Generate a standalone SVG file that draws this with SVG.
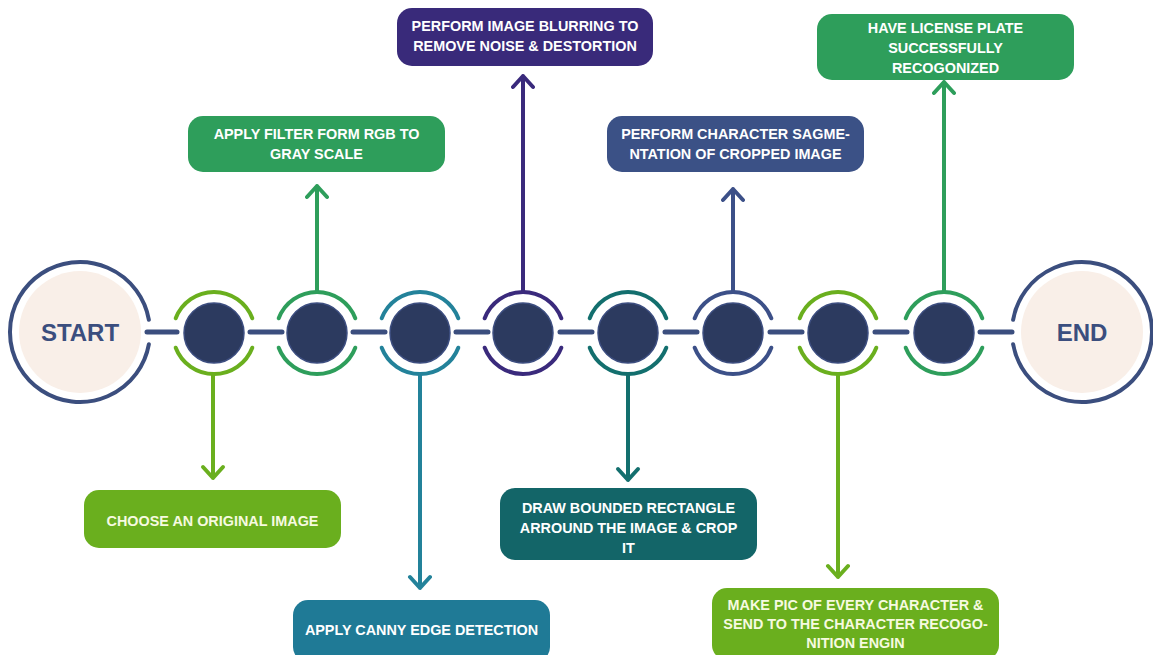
<svg xmlns="http://www.w3.org/2000/svg" width="1153" height="655" viewBox="0 0 1153 655">
<style>
  .lbl{font-family:"Liberation Sans",Arial,sans-serif;font-weight:700;font-size:14.4px;fill:#ffffff;text-anchor:middle}
  .lblL{fill:#F6FAE0}
  .big{font-family:"Liberation Sans",Arial,sans-serif;font-weight:700;font-size:24px;fill:#3B4E7E;text-anchor:middle}
  .ring{fill:none;stroke-width:4;stroke-linecap:round}
  .core{fill:#2C3A5F;stroke:#3D4E80;stroke-width:1.5}
  .seg{stroke:#3B4E7E;stroke-width:5;stroke-linecap:round;fill:none}
  .stem{fill:none;stroke-width:4;stroke-linecap:round;stroke-linejoin:round}
  .lime{stroke:#6AAF1E}.green{stroke:#2E9E5B}.teal{stroke:#23829A}.purple{stroke:#3A2A7C}.dteal{stroke:#136F6E}.navy{stroke:#3C5088}.bnavy{stroke:#3B4E7E}
</style>
<defs>
  <path id="ringTop" d="M-38.3,-14.7 A41 41 0 0 1 38.3,-14.7"/>
  <path id="ringBot" d="M-38.3,14.7 A41 41 0 0 0 38.3,14.7"/>
</defs>
<g id="connectors">
  <path class="seg" d="M147,332 H177 M250,332 H282 M353,332 H385 M456,332 H488 M560,332 H592 M665,332 H697 M770,332 H802 M875,332 H907 M980,332 H1012"/>
  <path class="stem lime" d="M213,374 V478 M203,467 L213,478 L223,467"/>
  <path class="stem green" d="M317,292 V186 M307,197 L317,186 L327,197"/>
  <path class="stem teal" d="M420,374 V588 M410,577 L420,588 L430,577"/>
  <path class="stem purple" d="M523,292 V76 M513,87 L523,76 L533,87"/>
  <path class="stem dteal" d="M628,374 V480 M618,469 L628,480 L638,469"/>
  <path class="stem navy" d="M733,292 V189 M723,200 L733,189 L743,200"/>
  <path class="stem lime" d="M838,374 V577 M828,566 L838,577 L848,566"/>
  <path class="stem green" d="M944,292 V82 M934,93 L944,82 L954,93"/>
</g>
<g id="start">
  <circle cx="80" cy="332" r="61" fill="#F9EFE8"/>
  <path class="ring bnavy" d="M148.9,319.8 A70 70 0 1 0 148.9,344.2"/>
  <text class="big" x="80" y="341">START</text>
</g>
<g id="end">
  <circle cx="1082" cy="332" r="61" fill="#F9EFE8"/>
  <path class="ring bnavy" d="M1013.1,319.8 A70 70 0 1 1 1013.1,344.2"/>
  <text class="big" x="1082" y="341">END</text>
</g>
<g id="node1" transform="translate(214,333)"><use href="#ringTop" class="ring lime"/><use href="#ringBot" class="ring lime"/><circle class="core" r="30"/></g>
<g id="node2" transform="translate(317,333)"><use href="#ringTop" class="ring green"/><use href="#ringBot" class="ring green"/><circle class="core" r="30"/></g>
<g id="node3" transform="translate(420,333)"><use href="#ringTop" class="ring teal"/><use href="#ringBot" class="ring teal"/><circle class="core" r="30"/></g>
<g id="node4" transform="translate(523,333)"><use href="#ringTop" class="ring purple"/><use href="#ringBot" class="ring purple"/><circle class="core" r="30"/></g>
<g id="node5" transform="translate(628,333)"><use href="#ringTop" class="ring dteal"/><use href="#ringBot" class="ring dteal"/><circle class="core" r="30"/></g>
<g id="node6" transform="translate(733,333)"><use href="#ringTop" class="ring navy"/><use href="#ringBot" class="ring navy"/><circle class="core" r="30"/></g>
<g id="node7" transform="translate(838,333)"><use href="#ringTop" class="ring lime"/><use href="#ringBot" class="ring lime"/><circle class="core" r="30"/></g>
<g id="node8" transform="translate(944,333)"><use href="#ringTop" class="ring green"/><use href="#ringBot" class="ring green"/><circle class="core" r="30"/></g>

<g id="box-filter">
  <rect x="188" y="116" width="257" height="56" rx="15" fill="#2E9E5B"/>
  <text class="lbl" x="316.5" y="139">APPLY FILTER FORM RGB TO</text>
  <text class="lbl" x="316.5" y="159">GRAY SCALE</text>
</g>
<g id="box-blur">
  <rect x="397" y="8" width="256" height="58" rx="15" fill="#392A7A"/>
  <text class="lbl" x="525" y="31">PERFORM IMAGE BLURRING TO</text>
  <text class="lbl" x="525" y="51">REMOVE NOISE &amp; DESTORTION</text>
</g>
<g id="box-segment">
  <rect x="607" y="116" width="257" height="56" rx="15" fill="#3B5186"/>
  <text class="lbl" x="735.5" y="139">PERFORM CHARACTER SAGME-</text>
  <text class="lbl" x="735.5" y="159">NTATION OF CROPPED IMAGE</text>
</g>
<g id="box-recognized">
  <rect x="817" y="14" width="257" height="66" rx="15" fill="#2E9E5B"/>
  <text class="lbl" x="945.5" y="33">HAVE LICENSE PLATE</text>
  <text class="lbl" x="945.5" y="53">SUCCESSFULLY</text>
  <text class="lbl" x="945.5" y="73">RECOGONIZED</text>
</g>
<g id="box-choose">
  <rect x="84" y="490" width="257" height="58" rx="15" fill="#6AAF1E"/>
  <text class="lbl lblL" x="212.5" y="526">CHOOSE AN ORIGINAL IMAGE</text>
</g>
<g id="box-canny">
  <rect x="293" y="600" width="257" height="62" rx="15" fill="#1F7A96"/>
  <text class="lbl" x="421.5" y="635">APPLY CANNY EDGE DETECTION</text>
</g>
<g id="box-rect">
  <rect x="500" y="488" width="257" height="72" rx="15" fill="#136568"/>
  <text class="lbl" x="628.5" y="513">DRAW BOUNDED RECTANGLE</text>
  <text class="lbl" x="628.5" y="533">ARROUND THE IMAGE &amp; CROP</text>
  <text class="lbl" x="628.5" y="553">IT</text>
</g>
<g id="box-pic">
  <rect x="712" y="588" width="287" height="72" rx="15" fill="#6AAF1E"/>
  <text class="lbl lblL" x="855.5" y="610">MAKE PIC OF EVERY CHARACTER &amp;</text>
  <text class="lbl lblL" x="855.5" y="629">SEND TO THE CHARACTER RECOGO-</text>
  <text class="lbl lblL" x="855.5" y="648">NITION ENGIN</text>
</g>
</svg>
